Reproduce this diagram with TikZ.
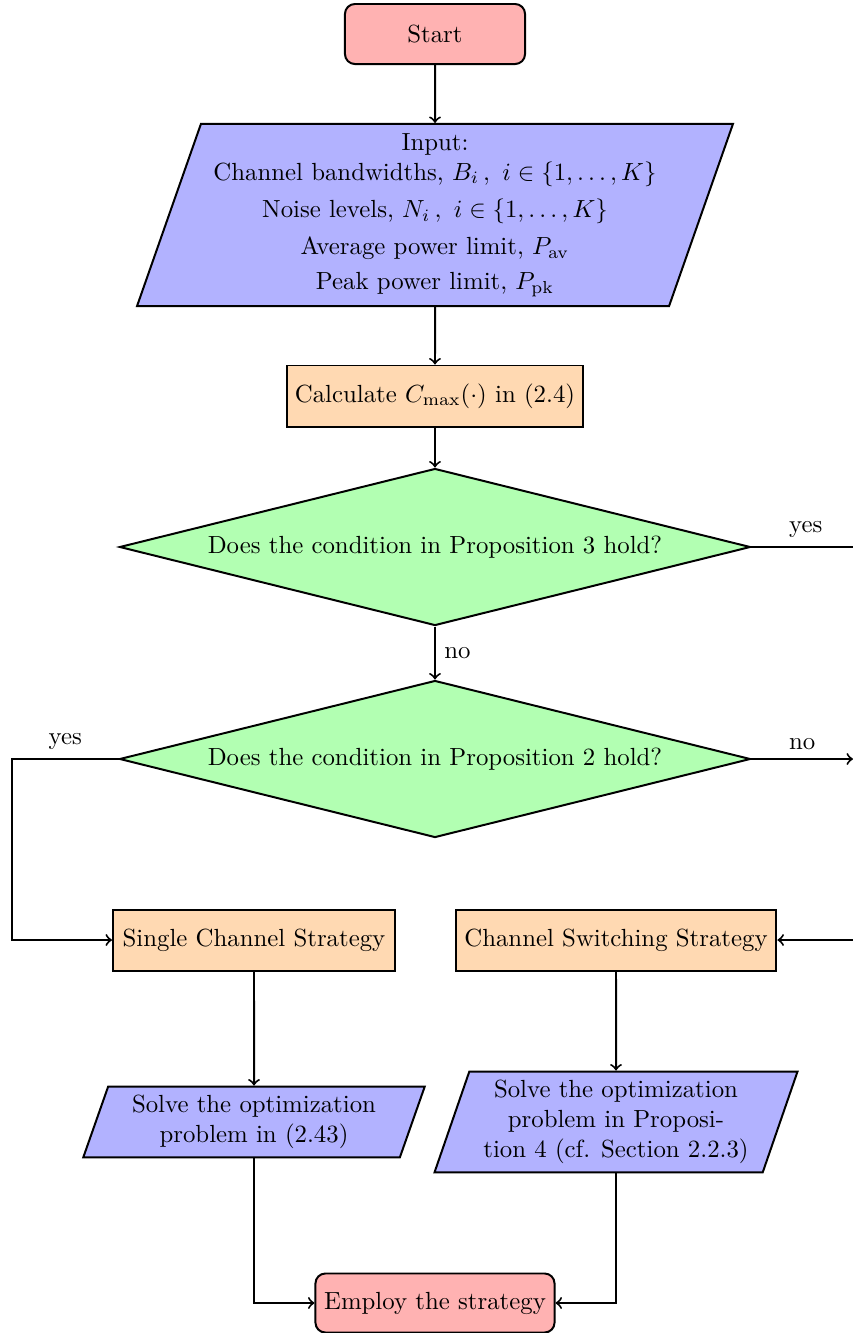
\documentclass[tikz,border=0pt]{standalone}
\usetikzlibrary{shapes.geometric}
\begin{document}
\begin{tikzpicture}[x=0.4032pt, y=-0.4032pt, thick, >=to,
  terminal/.style={draw, rounded corners=4pt, fill=red!30, minimum width=72.6pt, minimum height=24.2pt},
  io/.style={draw, trapezium, trapezium left angle=70, trapezium right angle=110,
             trapezium stretches=true, fill=blue!30, align=center, inner sep=1pt},
  process/.style={draw, fill=orange!30, minimum height=24.6pt},
  decision/.style={draw, diamond, aspect=4, fill=green!30, inner sep=0pt,
                   minimum width=254.4pt, minimum height=63.3pt},
  flow/.style={->}]
\useasboundingbox (0,0) rectangle (853,1333);
\clip (0,0) rectangle (853,1333);

% blocks of the flow chart
\node[terminal] (start) at (435,34) {Start};
\node[io, minimum width=240.3pt, minimum height=73.4pt] (input) at (435,215)
  {Input:\\ Channel bandwidths, $B_i\,,\ i\in\{1,\ldots,K\}$\\[3pt]
   Noise levels, $N_i\,,\ i\in\{1,\ldots,K\}$\\[3pt]
   Average power limit, $P_{\mathrm{av}}$\\[2pt]
   Peak power limit, $P_{\mathrm{pk}}$};
\node[process, minimum width=118.5pt] (calc) at (435,396) {Calculate $C_{\max}(\cdot)$ in (2.4)};
\node[decision] (d1) at (435,547) {Does the condition in Proposition 3 hold?};
\node[decision] (d2) at (435,759) {Does the condition in Proposition 2 hold?};
\node[process, minimum width=113.7pt] (single) at (254,940) {Single Channel Strategy};
\node[process, minimum width=129.4pt] (switch) at (616,940) {Channel Switching Strategy};
\node[io, minimum width=137.9pt, minimum height=28.6pt] (solveA) at (254,1122)
  {Solve the optimization\\ problem in (2.43)};
\node[io, minimum width=146.4pt, minimum height=40.7pt] (solveB) at (616,1122)
  {Solve the optimization\\ problem in Proposi-\\ tion 4 (cf. Section 2.2.3)};
\node[terminal, minimum width=96.4pt, minimum height=23.8pt] (employ) at (435,1303) {Employ the strategy};

% bends of the side branches
\coordinate (yesR) at (860,547);
\coordinate (noR) at (853,759);
\coordinate (yesL) at (12,759);

% connectors
\draw[flow] (start) -- (input);
\draw[flow] (input) -- (calc);
\draw[flow] (calc) -- (d1);
\draw[flow] (d1) -- node[right] {no} (d2);
\draw[flow] (d1.east) -- node[above] {yes} (yesR) |- (switch.east);
\draw[flow] (d2.east) -- node[above] {no} (noR);
\draw[flow] (d2.west) -- node[above] {yes} (yesL) |- (single.west);
\draw[flow] (single) -- (solveA);
\draw[flow] (switch) -- (solveB);
\draw[flow] (solveA) |- (employ.west);
\draw[flow] (solveB) |- (employ.east);
\end{tikzpicture}
\end{document}
